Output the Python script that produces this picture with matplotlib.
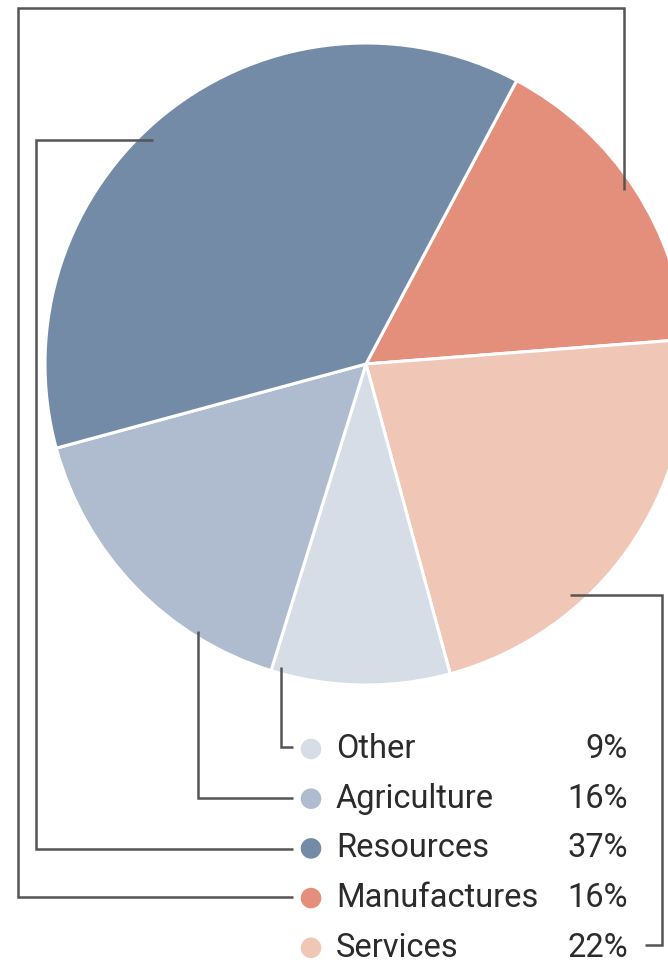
import matplotlib
matplotlib.use("Agg")
import matplotlib.pyplot as plt

# Datos del gráfico (orden de las porciones en el sentido de las agujas del reloj)
sectores = ["Manufactures", "Services", "Other", "Agriculture", "Resources"]
porcentajes = [16, 22, 9, 16, 37]
colores = ["#E38F7B", "#F0C6B6", "#D6DDE7", "#AFBCCF", "#748BA8"]

# Orden de la leyenda
leyenda = ["Other", "Agriculture", "Resources", "Manufactures", "Services"]
etiquetas_pct = ["9%", "16%", "37%", "16%", "22%"]

W, H = 668, 964
fig = plt.figure(figsize=(W / 100, H / 100), dpi=100)
ax = fig.add_axes([0, 0, 1, 1])

def Y(y):
    return H - y

# Pastel
ax.pie(porcentajes, colors=colores, startangle=62, counterclock=False,
       center=(366, Y(364)), radius=321,
       wedgeprops=dict(edgecolor="white", linewidth=2.2))

ax.set_xlim(0, W)
ax.set_ylim(0, H)
ax.set_aspect("equal")
ax.axis("off")

# Líneas guía (en pixeles)
lineas = {
    "Other": [(281, 667), (281, 747), (293, 747)],
    "Agriculture": [(198, 631), (198, 798), (293, 798)],
    "Resources": [(153, 140), (36, 140), (36, 849), (293, 849)],
    "Manufactures": [(624, 190), (624, 8), (18, 8), (18, 897), (293, 897)],
    "Services": [(570, 595), (662, 595), (662, 945), (645, 945)],
}
for nombre, pts in lineas.items():
    xs = [p[0] for p in pts]
    ys = [Y(p[1]) for p in pts]
    ax.plot(xs, ys, color="#555555", lw=1.8, solid_joinstyle="miter",
            solid_capstyle="butt", zorder=3)

# Leyenda
y0 = 749
for i, nombre in enumerate(leyenda):
    yy = Y(y0 + i * 49.7)
    c = colores[sectores.index(nombre)]
    ax.scatter([311], [yy], s=220, color=c, edgecolors="none", zorder=4)
    ax.text(336, yy, nombre, fontsize=23.5, family="Roboto", color="#2b2b2b",
            ha="left", va="center")
    ax.text(628, yy, etiquetas_pct[i], fontsize=23.5, family="Roboto",
            color="#2b2b2b", ha="right", va="center")

fig.savefig("out.png", dpi=100, facecolor="white")
